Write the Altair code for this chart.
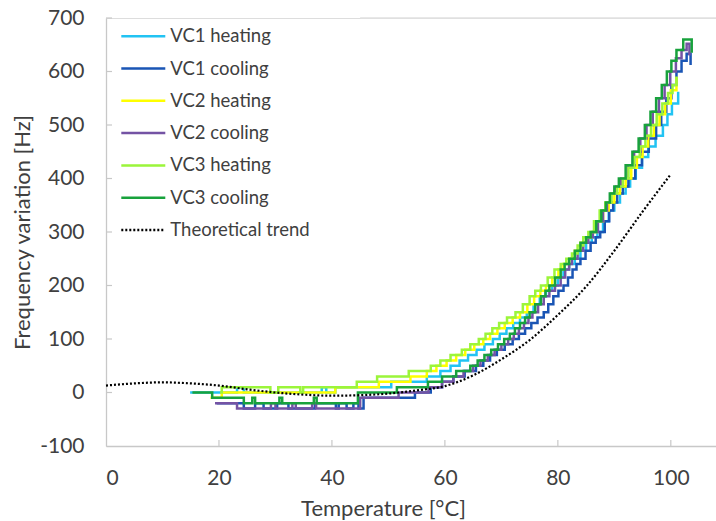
import altair as alt
import pandas as pd

# ---------------- data ----------------
SERIES = ["VC1 heating", "VC1 cooling", "VC2 heating", "VC2 cooling",
          "VC3 heating", "VC3 cooling", "Theoretical trend"]
COLORS = ["#22C3F3", "#1A55B5", "#FFFF00", "#7453A4", "#9BF53A", "#18A23C", "#000000"]
DASHES = [[1, 0], [1, 0], [1, 0], [1, 0], [1, 0], [1, 0], [2, 2]]

X_TICKS = [0, 20, 40, 60, 80, 100]
Y_TICKS = [-100, 0, 100, 200, 300, 400, 500, 600, 700]

# VC1 heating
vc1h_T = [14.9, 23.2, 24.4, 38.2, 39.0, 40.6, 50.5, 56.8, 59.2, 61.0, 62.6, 64.1, 65.6, 67.0, 68.5,
          69.7, 70.9, 72.1, 73.3, 74.5, 75.7, 76.8, 77.9, 79.0, 80.0, 81.0, 82.0, 83.0, 84.0, 85.0,
          86.0, 87.0, 88.0, 89.0, 90.0, 91.0, 92.0, 92.8, 93.8, 94.9, 96.0, 97.3, 98.6, 99.4, 100.2, 101.3]
vc1h_f = [0, 10, 0, 10, 0, 10, 20, 30, 40, 50, 60, 70, 80, 90, 100,
          110, 120, 130, 140, 150, 165, 180, 190, 200, 215, 230, 240, 250, 265, 280,
          290, 300, 320, 340, 355, 372, 385, 400, 420, 440, 460, 480, 500, 520, 540, 562]

# VC1 cooling
vc1c_T = [19.6, 24.4, 26.4, 27.9, 30.3, 32.3, 37.0, 40.7, 41.2, 42.6, 43.8, 44.7, 45.6,
          54.7, 57.5, 59.5, 61.5, 63.5, 65.5, 66.8, 68.0, 69.2, 70.6, 72.0, 73.1, 74.2, 75.3, 76.4, 77.5,
          78.3, 79.2, 80.1, 81.0, 81.8, 82.6, 83.3, 84.0, 84.9, 85.8, 86.7, 87.5, 88.3, 89.1, 89.8, 90.5,
          91.5, 92.5, 93.7, 94.9, 96.1, 97.4, 98.3, 99.2, 100.1, 101.0, 101.9, 102.8, 103.5]
vc1c_f = [-20, -30, -20, -30, -20, -30, -20, -30, -20, -30, -20, -30, -10,
          0, 10, 20, 30, 40, 50, 60, 70, 80, 90, 100, 110, 120, 130, 140, 150,
          165, 180, 190, 200, 215, 230, 240, 250, 265, 280, 290, 300, 320, 340, 355, 372,
          385, 400, 425, 450, 475, 500, 525, 550, 575, 600, 620, 633, 612]

# VC2 heating
vc2h_T = [18.5, 20.5, 40.6, 48.3, 53.9, 56.8, 58.5, 60.3, 62.0, 63.6, 65.2, 66.8, 68.0, 69.3, 70.6,
          72.0, 73.3, 74.6, 75.8, 76.9, 77.9, 79.0, 80.1, 81.0, 82.0, 83.0, 84.0, 85.0, 86.0, 87.0,
          88.0, 89.0, 90.0, 91.0, 92.0, 93.0, 94.0, 95.0, 96.0, 97.0, 98.0, 99.0, 100.0, 101.0]
vc2h_f = [-10, 0, 10, 20, 30, 40, 50, 60, 70, 80, 90, 100, 110, 120, 130,
          140, 150, 165, 180, 190, 200, 215, 230, 240, 250, 265, 280, 290, 300, 320,
          340, 355, 372, 385, 400, 420, 440, 460, 480, 500, 520, 540, 565, 590]

# VC2 cooling
vc2c_T = [19.3, 23.2, 29.2, 30.0, 33.0, 33.6, 36.5, 37.2, 45.0, 51.8, 57.1, 59.5, 61.5, 63.3, 65.0,
          66.3, 67.6, 68.8, 70.0, 71.2, 72.2, 73.1, 74.0, 74.8, 75.5, 76.5, 77.5, 78.5, 79.5, 80.5,
          81.3, 82.0, 82.5, 83.5, 84.5, 85.4, 86.2, 87.1, 88.0, 88.7, 89.4, 90.3, 91.2, 92.4, 93.5,
          94.6, 95.7, 96.8, 97.9, 98.9, 99.9, 100.9, 101.9, 102.8, 103.3]
vc2c_f = [-20, -30, -20, -30, -20, -30, -20, -30, -10, 0, 10, 20, 30, 40, 50,
          60, 70, 80, 90, 100, 110, 120, 130, 140, 150, 165, 180, 190, 200, 215,
          230, 240, 250, 265, 280, 290, 300, 320, 340, 355, 372, 385, 400, 425, 450,
          475, 500, 525, 550, 575, 600, 625, 640, 652, 630]

# VC3 heating
vc3h_T = [20.2, 20.5, 29.1, 30.5, 34.4, 34.9, 44.4, 48.0, 53.6, 57.5, 59.2, 61.0, 63.0, 64.5, 66.0,
          67.2, 68.4, 69.6, 71.0, 72.5, 73.8, 75.0, 76.0, 77.0, 78.2, 79.4, 80.5, 81.5, 82.5, 83.5,
          84.5, 85.4, 86.4, 87.4, 88.4, 89.5, 90.5, 91.5, 92.5, 93.5, 94.5, 95.5, 96.5, 97.5, 98.5,
          99.5, 100.3, 101.0]
vc3h_f = [0, 10, 0, 10, 0, 10, 20, 30, 40, 50, 60, 70, 80, 90, 100,
          110, 120, 130, 140, 150, 165, 180, 190, 200, 215, 230, 240, 250, 260, 275,
          290, 300, 320, 340, 355, 372, 385, 400, 420, 440, 460, 480, 500, 520, 540,
          560, 575, 590]

# VC3 cooling
vc3c_T = [15.3, 18.8, 24.4, 25.9, 26.4, 30.7, 31.2, 36.8, 37.3, 44.6, 51.5, 57.0, 59.5, 62.0, 64.5,
          65.8, 67.0, 68.2, 69.4, 70.5, 71.5, 72.4, 73.3, 74.2, 75.0, 76.0, 77.0, 77.8, 78.5, 79.5,
          80.5, 81.2, 82.0, 83.0, 84.0, 85.0, 85.8, 86.8, 87.7, 88.5, 89.2, 90.0, 90.8, 92.0, 93.2,
          94.3, 95.4, 96.4, 97.4, 98.4, 99.3, 100.1, 101.0, 102.2, 103.7]
vc3c_f = [0, -10, -20, -10, -20, -10, -20, -10, -20, 0, 10, 20, 30, 40, 50,
          60, 70, 80, 90, 100, 110, 120, 130, 140, 150, 165, 180, 190, 200, 215,
          230, 240, 250, 265, 280, 290, 300, 320, 340, 355, 372, 385, 400, 425, 450,
          475, 500, 525, 550, 575, 600, 620, 640, 660, 635]

# Theoretical trend
theo_T = [0, 5, 10, 15, 20, 25, 30, 35, 40, 45, 50, 55, 60, 65, 70, 75, 80, 85, 90, 95, 100]
theo_f = [13, 17, 19, 17, 13, 6, 0, -4, -6, -5, -2, 4, 12, 32, 62, 98, 145, 198, 265, 338, 408]

# top border segment (as in original, hidden behind the legend on the left)
TOP_LINE_T = [45, 108]

# ---------------- build tables ----------------
steps = [(SERIES[0], vc1h_T, vc1h_f), (SERIES[1], vc1c_T, vc1c_f),
         (SERIES[2], vc2h_T, vc2h_f), (SERIES[3], vc2c_T, vc2c_f),
         (SERIES[4], vc3h_T, vc3h_f), (SERIES[5], vc3c_T, vc3c_f)]
rows = []
for name, ts, fs in steps:
    for i, (t, f) in enumerate(zip(ts, fs)):
        rows.append({"series": name, "T": t, "f": f, "i": i})
df_steps = pd.DataFrame(rows)
df_theo = pd.DataFrame({"series": SERIES[6], "T": theo_T, "f": theo_f, "i": range(len(theo_T))})

FONT = "Lato"
TXT = "#404040"
GRID = "#c8c8c8"
W, H = 610, 428

xscale = alt.Scale(domain=[0, 108], nice=False, zero=False)
yscale = alt.Scale(domain=[-100, 700], nice=False, zero=False)


def make_legend():
    return alt.Legend(orient="none", legendX=13.8, legendY=8.2, title=None,
                      symbolType="stroke", symbolSize=1936, symbolStrokeWidth=2.5,
                      clipHeight=20, rowPadding=12.3, labelOffset=3.5,
                      labelFont=FONT, labelFontSize=18.5, labelColor=TXT,
                      padding=0, symbolOffset=0, labelLimit=300)


color = alt.Color("series:N", scale=alt.Scale(domain=SERIES, range=COLORS), legend=make_legend())
dash = alt.StrokeDash("series:N", scale=alt.Scale(domain=SERIES, range=DASHES), legend=make_legend())

xaxis = alt.Axis(values=X_TICKS, title="Temperature [°C]", grid=False, ticks=False,
                 domainColor=GRID, domainWidth=1.3, labelFont=FONT, labelFontSize=21,
                 labelColor=TXT, labelPadding=21, labelExpr="'' + datum.value",
                 titleFont=FONT, titleFontSize=22,
                 titleFontWeight="normal", titleColor=TXT, titleX=277, titleY=62,
                 titleBaseline="middle")
yaxis = alt.Axis(values=Y_TICKS, title="Frequency variation [Hz]", grid=False, ticks=False,
                 domainColor=GRID, domainWidth=1.3, labelFont=FONT, labelFontSize=21,
                 labelColor=TXT, labelPadding=22, labelExpr="'' + datum.value",
                 titleFont=FONT, titleFontSize=22,
                 titleFontWeight="normal", titleColor=TXT, titleX=-84, titleY=214,
                 titleBaseline="middle")

step_layer = alt.Chart(df_steps).mark_line(interpolate="step-after", strokeWidth=2.5).encode(
    x=alt.X("T:Q", scale=xscale, axis=xaxis),
    y=alt.Y("f:Q", scale=yscale, axis=yaxis),
    color=color, strokeDash=dash, order=alt.Order("i:Q"),
    detail="series:N",
)

theo_layer = alt.Chart(df_theo).mark_line(interpolate="monotone", strokeWidth=2.2).encode(
    x=alt.X("T:Q", scale=xscale),
    y=alt.Y("f:Q", scale=yscale),
    color=color, strokeDash=dash, order=alt.Order("i:Q"),
)

top_line = alt.Chart(pd.DataFrame({"a": [TOP_LINE_T[0]], "b": [TOP_LINE_T[1]], "y": [700]})).mark_rule(
    color="#e0e0e0", strokeWidth=1.3).encode(
    x=alt.X("a:Q", scale=xscale), x2="b:Q", y=alt.Y("y:Q", scale=yscale))

xt = alt.Chart(pd.DataFrame({"t": X_TICKS[1:]})).mark_rule(color=GRID, strokeWidth=1.2).encode(
    x=alt.X("t:Q", scale=xscale), y=alt.value(H), y2=alt.value(H - 6))
yt = alt.Chart(pd.DataFrame({"v": Y_TICKS[1:]})).mark_rule(color=GRID, strokeWidth=1.2).encode(
    y=alt.Y("v:Q", scale=yscale), x=alt.value(0), x2=alt.value(6))

chart = alt.layer(top_line, xt, yt, step_layer, theo_layer).properties(
    width=W, height=H,
    autosize=alt.AutoSizeParams(type="none"),
    padding={"left": 106, "top": 18, "right": 0, "bottom": 75},
).configure_view(stroke=None).configure(background="white")

chart.save("out.html", embed_options={"renderer": "svg", "actions": False})
